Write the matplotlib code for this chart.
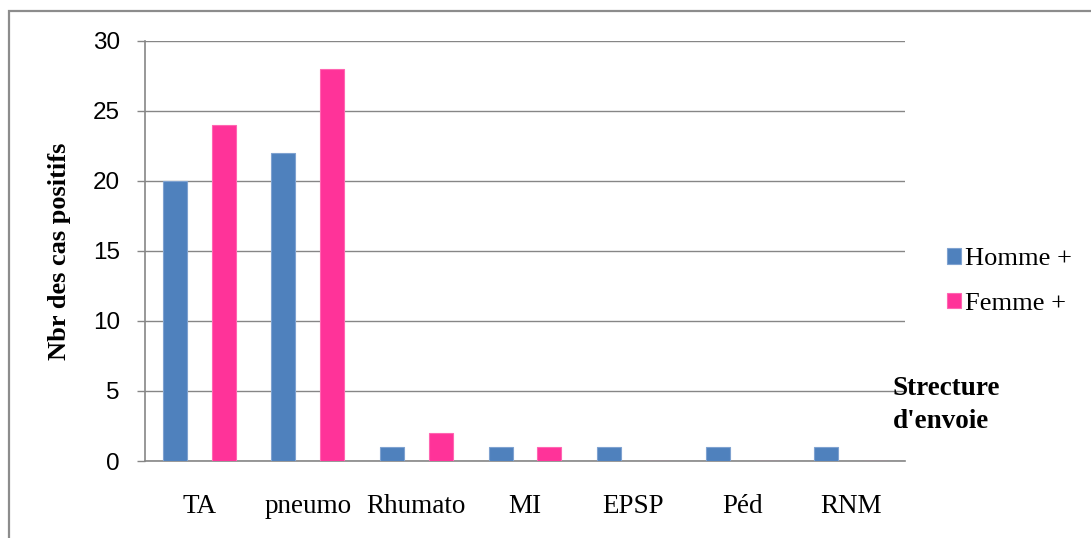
import numpy as np
import matplotlib
matplotlib.use("Agg")
import matplotlib.pyplot as plt
from matplotlib.patches import Rectangle

# Positive cases per sending department, by sex
categories = ["TA", "pneumo", "Rhumato", "MI", "EPSP", "Péd", "RNM"]
homme = [20, 22, 1, 1, 1, 1, 1]
femme = [24, 28, 2, 1, 0, 0, 0]
yticks = [0, 5, 10, 15, 20, 25, 30]

blue = "#4F81BD"
pink = "#FF3399"
grey = "#868686"
serif = "Liberation Serif"

fig = plt.figure(figsize=(10.91, 5.38), dpi=100)
ax = fig.add_axes([0.1329, 0.1431, 0.6966, 0.7813])

x = np.arange(len(categories))
w = 0.22
ax.bar(x - 0.225, homme, w, color=blue, edgecolor="#7FA2D0", linewidth=0.8,
       label="Homme +", zorder=3)
ax.bar(x + 0.225, femme, w, color=pink, edgecolor="#FF66B2", linewidth=0.8,
       label="Femme +", zorder=3)

ax.set_xlim(-0.5, len(categories) - 0.5)
ax.set_ylim(0, 30)
ax.set_yticks(yticks)
ax.set_xticks(x)
ax.set_xticklabels(categories, fontfamily=serif, fontsize=19.5)
ax.tick_params(axis="x", length=0, pad=23.5)
ax.tick_params(axis="y", length=6, width=1, color=grey, pad=12, labelsize=17.5)
for lab in ax.get_yticklabels():
    lab.set_fontfamily("Liberation Sans")

ax.grid(axis="y", color=grey, linewidth=1, zorder=0)
for side in ("top", "right"):
    ax.spines[side].set_visible(False)
for side in ("left", "bottom"):
    ax.spines[side].set_color(grey)
    ax.spines[side].set_linewidth(1.2)

ax.set_ylabel("Nbr des cas positifs", fontfamily=serif, fontweight="bold",
              fontsize=19, labelpad=16)

fig.legend(loc="center left", bbox_to_anchor=(0.858, 0.477),
           prop={"family": serif, "size": 19}, frameon=False,
           handlelength=0.55, handleheight=0.55, handletextpad=0.15,
           labelspacing=0.85, borderaxespad=0)

fig.text(0.8185, 0.247, "Strecture\nd'envoie", fontfamily=serif,
         fontweight="bold", fontsize=19.5, ha="left", va="center",
         linespacing=1.4)

# outer chart frame, only the top and left edges fall inside the image
fig.patches.append(Rectangle((9 / 1091, -0.2), 1.5, 1.2 - 11 / 538,
                             transform=fig.transFigure, fill=False,
                             edgecolor="#8C8C8C", linewidth=1.6))

fig.savefig("out.png", dpi=100)
